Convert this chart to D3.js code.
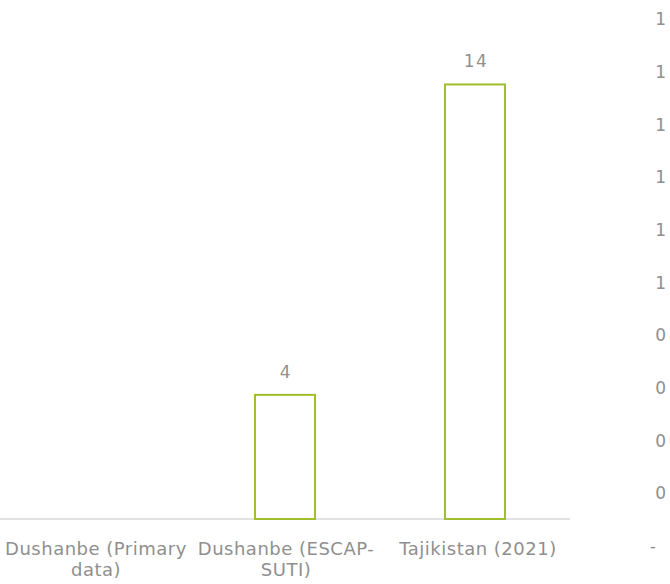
<!DOCTYPE html>
<html>
<head>
<meta charset="utf-8">
<script src="https://cdn.jsdelivr.net/npm/d3@7"></script>
<style>
  html, body { margin: 0; padding: 0; background: #ffffff; }
  svg { display: block; }
  text { font-family: "DejaVu Sans", sans-serif; fill: #8f8f8f; }
</style>
</head>
<body>
<svg id="chart" width="670" height="584"></svg>
<script>
// Categories (each entry holds the wrapped lines of its label)
const categories = [
  ["Dushanbe (Primary", "data)"],
  ["Dushanbe (ESCAP-", "SUTI)"],
  ["Tajikistan (2021)"]
];
const categoryKeys = ["Dushanbe (Primary data)", "Dushanbe (ESCAP-SUTI)", "Tajikistan (2021)"];
// Bar values (first category has no value)
const values = [null, 4, 14];
// Secondary axis ticks
const rightTicks = [0, 0.1, 0.2, 0.3, 0.4, 0.5, 0.6, 0.7, 0.8, 0.9, 1.0];

const svg = d3.select("#chart");
const green = "#a0bf2c";

const x = d3.scaleBand()
  .domain(categoryKeys)
  .range([0, 570])
  .paddingInner(0.684)
  .paddingOuter(0.342);

const y = d3.scaleLinear().domain([0, 16]).range([519, 22.4]);
const y2 = d3.scaleLinear().domain([0, 1]).range([546, 19.5]);

// Category axis line
svg.append("line")
  .attr("x1", 0).attr("x2", 570)
  .attr("y1", 519).attr("y2", 519)
  .attr("stroke", "#d9d9d9").attr("stroke-width", 1.5);

// Bars
const data = categoryKeys.map((k, i) => ({ key: k, value: values[i] }))
  .filter(d => d.value != null);

svg.append("g").selectAll("rect")
  .data(data)
  .join("rect")
  .attr("x", d => x(d.key))
  .attr("y", d => y(d.value))
  .attr("width", x.bandwidth())
  .attr("height", d => y(0) - y(d.value))
  .attr("fill", "#ffffff")
  .attr("stroke", green)
  .attr("stroke-width", 2);

// Value labels
svg.append("g").selectAll("text")
  .data(data)
  .join("text")
  .attr("x", d => x(d.key) + x.bandwidth() / 2 + 1)
  .attr("y", d => y(d.value) - 23)
  .attr("dy", "0.35em")
  .attr("text-anchor", "middle")
  .style("font-size", "17px")
  .style("letter-spacing", "1.5px")
  .text(d => d.value);

// Category labels
const catG = svg.append("g");
categoryKeys.forEach((k, i) => {
  const cx = x(k) + x.bandwidth() / 2 + (i === 2 ? 3 : 1);
  const t = catG.append("text")
    .attr("x", cx)
    .attr("y", 549)
    .attr("text-anchor", "middle")
    .style("font-size", "18px")
    .style("letter-spacing", "0.5px");
  categories[i].forEach((line, j) => {
    t.append("tspan")
      .attr("x", cx)
      .attr("y", 549 + j * 21)
      .attr("dy", "0.35em")
      .text(line);
  });
});

// Secondary value axis (accounting-style labels, dash for zero)
const axisR = d3.axisRight(y2)
  .tickValues(rightTicks)
  .tickSize(0)
  .tickFormat(d => d === 0 ? "-" : String(Math.round(d + 1e-9)));

const gR = svg.append("g")
  .attr("transform", "translate(666,0)")
  .call(axisR);
gR.select(".domain").remove();
gR.selectAll("text")
  .attr("x", d => d === 0 ? -10 : 0)
  .attr("text-anchor", "end")
  .style("font-size", "17px")
  .style("font-family", "'DejaVu Sans', sans-serif")
  .attr("fill", "#8f8f8f");
</script>
</body>
</html>
